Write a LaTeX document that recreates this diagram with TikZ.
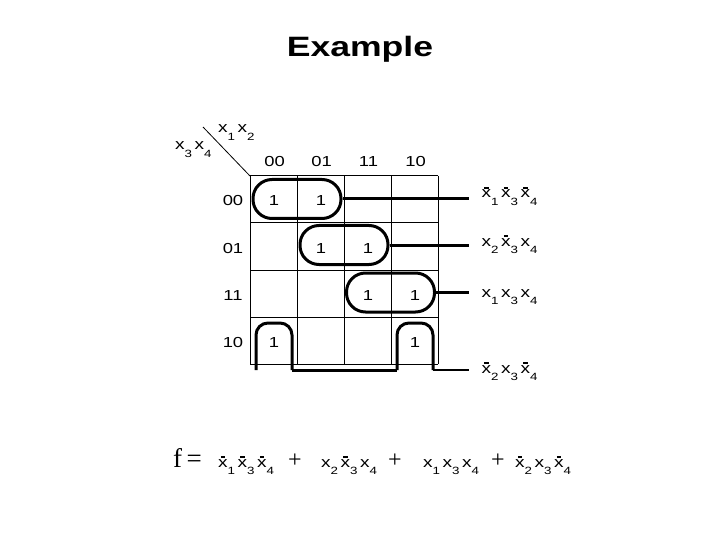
\documentclass[tikz,border=0pt]{standalone}
\usepackage{fontspec}
\setmainfont{Liberation Sans}
\newfontfamily\serif{Liberation Serif}
\usepackage{graphicx}
\usepackage{tikz}

\newcommand\wide[1]{\scalebox{1.27}[1]{#1}}
\newcommand\xbar{\leavevmode\makebox[0pt][l]{\hspace{0.14em}\rule[0.63em]{0.22em}{0.13em}}x}
\newcommand\sub[1]{\raisebox{-0.48em}{\fontsize{10.5}{10.5}\selectfont #1}\hspace{2pt}}
\newcommand\vx[1]{x\sub{#1}}
\newcommand\vnx[1]{\xbar\sub{#1}}

\tikzset{
  hdr/.style={font=\fontsize{14.5}{16}\selectfont, inner sep=0pt, anchor=base},
  term/.style={font=\fontsize{15}{17}\selectfont, anchor=base west, inner xsep=12.5pt, inner ysep=0pt},
  loopbox/.style={draw, line width=3pt, rounded corners=19pt,
    minimum width=88pt, minimum height=39pt, inner sep=0pt},
  conn/.style={line width=3pt},
  plus/.style={font=\serif\fontsize{24}{26}\selectfont, inner sep=0pt},
}

\begin{document}
\begin{tikzpicture}[x=1pt, y=-1pt]
  \useasboundingbox (0,0) rectangle (720,540);
  % title
  \node[font=\bfseries\fontsize{28}{32}\selectfont, anchor=base, inner sep=0pt] (title) at (360,57) {\wide{Example}};
  % grid of cells: 4 x 4, cell 47
  \foreach \i in {0,...,4} {
    \draw[line width=1pt] (250+47*\i,176) -- (250+47*\i,364);
    \draw[line width=1pt] (250,176+47*\i) -- (438,176+47*\i);
  }
  % corner label
  \draw[line width=0.8pt] (203,127) -- (250,176);
  \node[term, inner xsep=0pt] (v12) at (218,133) {\wide{\vx{1}\vx{2}}};
  \node[term, inner xsep=0pt] (v34) at (175,150) {\wide{\vx{3}\vx{4}}};
  % column and row headers
  \foreach \lbl [count=\k from 0] in {00,01,11,10} {
    \node[hdr] (col\k) at (274.5+47*\k,166.5) {\wide{\lbl}};
    \node[hdr] (row\k) at (233,206+47*\k) {\wide{\lbl}};
  }
  % ones
  \node[hdr] (c00) at (274,206) {\wide{1}};
  \node[hdr] (c01) at (321,206) {\wide{1}};
  \node[hdr] (c11) at (321,253) {\wide{1}};
  \node[hdr] (c12) at (368,253) {\wide{1}};
  \node[hdr] (c22) at (368,300) {\wide{1}};
  \node[hdr] (c23) at (415,300) {\wide{1}};
  \node[hdr] (c30) at (274,347) {\wide{1}};
  \node[hdr] (c33) at (415,347) {\wide{1}};
  % groups
  \node[loopbox] (gA) at (297,199) {};
  \node[loopbox] (gB) at (344,245) {};
  \node[loopbox] (gC) at (390.5,292.5) {};
  \draw[line width=3pt, rounded corners=12pt] (256,370) -- (256,323) -- (292,323) -- (292,370);
  \draw[line width=3pt, rounded corners=12pt] (397,370) -- (397,323) -- (433,323) -- (433,370);
  \draw[conn] (292,370) -- (397,370);
  \coordinate (gD) at (433,370);
  % product terms
  \node[term] (tA) at (469,198) {\wide{\vnx{1}\vnx{3}\vnx{4}}};
  \node[term] (tB) at (469,246) {\wide{\vx{2}\vnx{3}\vx{4}}};
  \node[term] (tC) at (469,297) {\wide{\vx{1}\vx{3}\vx{4}}};
  \node[term] (tD) at (469,373) {\wide{\vnx{2}\vx{3}\vnx{4}}};
  \draw[conn] (gA.east) -- (gA.east -| tA.west);
  \draw[conn] (gB.east) -- (gB.east -| tB.west);
  \draw[line width=2.2pt] (gC.east) -- (gC.east -| tC.west);
  \draw[line width=2.2pt] (gD) -- (gD -| tD.west);
  % resulting function
  \node[font=\serif\fontsize{27}{30}\selectfont, anchor=base west, inner sep=0pt] (feq) at (173,467) {f\,=};
  \node[term, inner xsep=0pt] (s1) at (218,467) {\wide{\vnx{1}\vnx{3}\vnx{4}}};
  \node[plus] (p1) at (295,461) {+};
  \node[term, inner xsep=0pt] (s2) at (321,467) {\wide{\vx{2}\vnx{3}\vx{4}}};
  \node[plus] (p2) at (395,461) {+};
  \node[term, inner xsep=0pt] (s3) at (423,467) {\wide{\vx{1}\vx{3}\vx{4}}};
  \node[plus] (p3) at (498,461) {+};
  \node[term, inner xsep=0pt] (s4) at (515,467) {\wide{\vnx{2}\vx{3}\vnx{4}}};
\end{tikzpicture}
\end{document}
